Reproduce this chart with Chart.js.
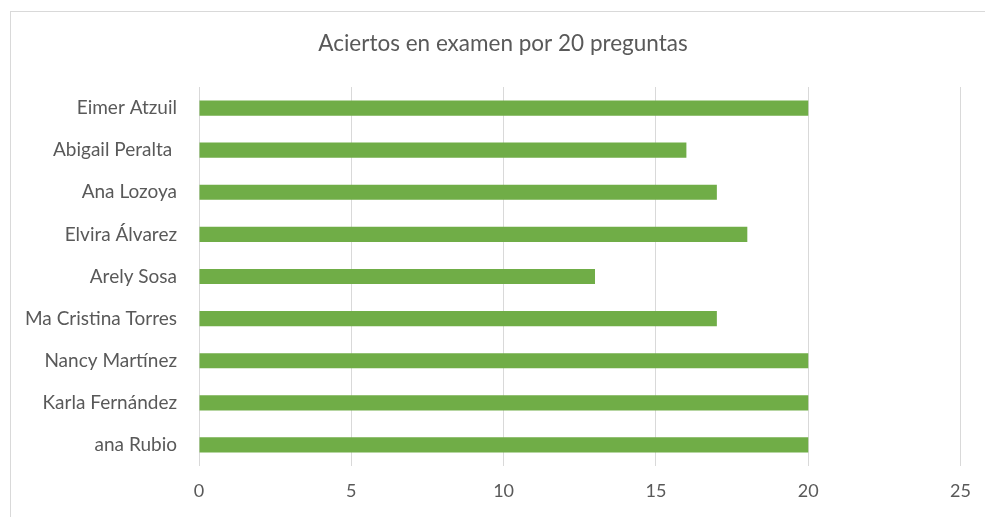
<!DOCTYPE html>
<html>
<head>
<meta charset="utf-8">
<script src="https://cdn.jsdelivr.net/npm/chart.js@4"></script>
<style>
  html, body { margin: 0; padding: 0; background: #fff; }
  #wrap { position: relative; width: 985px; height: 517px; }
  #frame { position: absolute; left: 10px; top: 11px; right: 0; bottom: 0;
           border-top: 1px solid #d9d9d9; border-left: 1px solid #d9d9d9; }
  canvas { position: absolute; left: 0; top: 0; }
</style>
</head>
<body>
<div id="wrap">
  <div id="frame"></div>
  <canvas id="grafica" width="985" height="517"></canvas>
</div>
<script>
const alumnos = ['Eimer Atzuil', 'Abigail Peralta ', 'Ana Lozoya', 'Elvira Álvarez', 'Arely Sosa',
  'Ma Cristina Torres', 'Nancy Martínez', 'Karla Fernández', 'ana Rubio'];
const aciertos = [20, 16, 17, 18, 13, 17, 20, 20, 20];
const titulo = 'Aciertos en examen por 20 preguntas';

const ctx = document.getElementById('grafica');

// titulo centrado sobre todo el marco (no solo el area del grafico)
const tituloPlugin = {
  id: 'tituloCentrado',
  afterDraw(chart) {
    const c = chart.ctx;
    c.save();
    c.font = '22.5px Lato';
    c.fillStyle = '#595959';
    c.textAlign = 'center';
    c.textBaseline = 'middle';
    c.fillText(titulo, 503, 44);
    c.restore();
  }
};

new Chart(ctx, {
  type: 'bar',
  data: {
    labels: alumnos,
    datasets: [{
      label: 'Aciertos',
      data: aciertos,
      backgroundColor: '#70ad47',
      borderWidth: 0,
      categoryPercentage: 1,
      barPercentage: 0.36
    }]
  },
  options: {
    indexAxis: 'y',
    responsive: false,
    animation: false,
    layout: { padding: { left: 10, right: 23, top: 87, bottom: 0 } },
    plugins: {
      legend: { display: false },
      tooltip: { enabled: false },
      title: { display: false }
    },
    scales: {
      x: {
        min: 0,
        max: 25,
        ticks: { stepSize: 5, color: '#595959', font: { family: 'Lato', size: 18 }, padding: 14 },
        grid: { color: '#d9d9d9', drawTicks: false },
        border: { display: false },
        afterFit: (s) => { s.height = 51; }
      },
      y: {
        ticks: { color: '#595959', font: { family: 'Lato', size: 19 }, padding: 14 },
        grid: { display: false },
        border: { display: false },
        afterFit: (s) => { s.width = 189; }
      }
    }
  },
  plugins: [tituloPlugin]
});
</script>
</body>
</html>
